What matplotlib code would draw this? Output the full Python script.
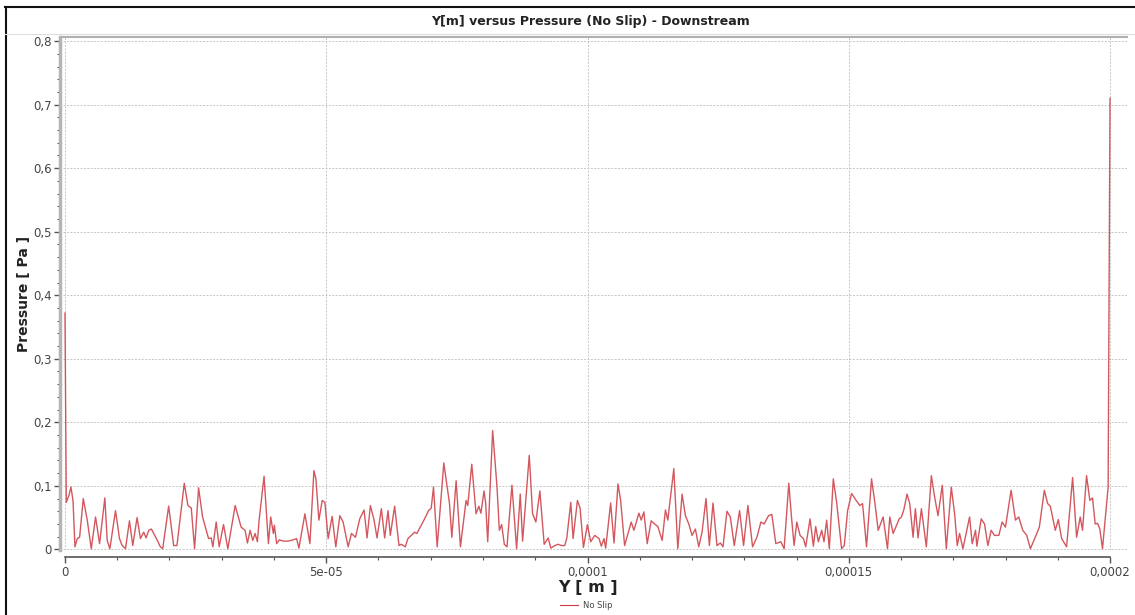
import matplotlib
matplotlib.use("Agg")
import matplotlib.pyplot as plt
from matplotlib.lines import Line2D
from matplotlib.ticker import MultipleLocator, FixedLocator

# ---- data (position in micrometres, pressure in Pa) ----
y_um = [0.0, 0.25, 0.76, 1.14, 1.53, 1.91, 2.35, 2.80, 3.50, 4.26, 5.03, 5.85, 6.62, 7.63, 8.08, 8.59,
        9.67, 10.43, 10.94, 11.58, 12.34, 12.97, 13.80, 14.44, 15.07, 15.52, 16.03, 16.54, 17.17, 17.68,
        18.26, 18.70, 19.84, 20.80, 21.43, 22.83, 23.53, 24.17, 24.80, 25.57, 26.33, 27.48, 27.98, 28.30,
        28.94, 29.51, 30.34, 31.17, 32.57, 33.71, 34.47, 34.92, 35.43, 35.94, 36.38, 36.83, 37.15, 38.10,
        38.93, 39.37, 39.88, 40.07, 40.51, 41.02, 41.79, 42.74, 43.69, 44.33, 44.77, 45.92, 46.87, 47.64, 48.02,
        48.59, 49.23, 49.74, 50.37, 51.13, 51.83, 52.60, 53.23, 54.19, 54.82, 55.59, 56.41, 57.24, 57.81,
        58.45, 59.15, 59.72, 60.55, 61.18, 61.82, 62.26, 63.09, 63.92, 64.36, 65.13, 65.64, 66.27, 66.91,
        67.35, 68.05, 68.82, 69.58, 70.09, 70.53, 71.23, 72.50, 73.59, 74.03, 74.86, 75.68, 76.76, 77.08,
        77.85, 78.67, 79.20, 79.60, 80.20, 80.50, 80.90, 81.85, 82.68, 83.13, 83.57, 84.08, 84.59, 85.54,
        86.43, 87.13, 87.58, 88.85, 89.49, 90.12, 90.88, 91.71, 92.47, 92.98, 93.75, 94.38, 95.02, 95.65,
        96.04, 96.80, 97.24, 98.07, 98.58, 99.22, 99.98, 100.61, 101.38, 102.21, 102.65, 103.16, 103.48,
        104.43, 105.07, 105.83, 106.34, 107.10, 108.37, 108.88, 109.84, 110.28, 110.79, 111.43, 112.19,
        112.83, 113.46, 114.29, 114.92, 115.37, 116.52, 117.28, 118.10, 118.74, 119.38, 120.01, 120.65,
        121.29, 121.92, 122.68, 123.32, 124.02, 124.78, 125.42, 125.93, 126.69, 127.33, 128.09, 129.11,
        129.87, 130.70, 131.59, 132.42, 133.18, 133.81, 134.64, 135.28, 136.04, 137.00, 137.63, 138.52,
        139.09, 139.54, 140.05, 140.68, 141.32, 141.76, 142.59, 143.23, 143.67, 144.18, 144.82, 145.26,
        145.77, 146.28, 147.04, 147.68, 148.19, 148.63, 149.14, 149.78, 150.54, 151.50, 152.13, 152.64,
        153.40, 154.36, 154.99, 155.63, 156.58, 157.41, 157.85, 158.49, 159.26, 159.64, 160.08, 160.53,
        161.16, 161.67, 162.31, 162.75, 163.26, 163.90, 164.85, 165.81, 166.44, 167.08, 167.90, 168.67,
        169.62, 170.26, 170.77, 171.21, 171.85, 173.12, 173.63, 174.26, 174.52, 175.35, 175.98, 176.62,
        177.25, 177.89, 178.72, 179.35, 179.99, 181.07, 181.90, 182.53, 183.30, 184.06, 184.76, 185.84,
        186.47, 187.43, 188.07, 188.57, 189.53, 190.10, 190.74, 191.69, 192.84, 193.60, 194.30, 194.74,
        195.51, 196.14, 196.65, 197.16, 197.61, 198.05, 198.56, 199.32, 199.64, 200.0]
pressure = [0.372, 0.074, 0.085, 0.098, 0.077, 0.004, 0.017, 0.019, 0.080, 0.046, 0.001, 0.051, 0.009, 0.081,
            0.014, 0.001, 0.061, 0.017, 0.006, 0.001, 0.045, 0.006, 0.050, 0.017, 0.027, 0.018, 0.030, 0.032,
            0.022, 0.014, 0.004, 0.001, 0.068, 0.006, 0.006, 0.104, 0.069, 0.065, 0.001, 0.097, 0.051, 0.017,
            0.018, 0.004, 0.043, 0.004, 0.039, 0.001, 0.069, 0.035, 0.030, 0.010, 0.030, 0.014, 0.025, 0.012,
            0.046, 0.115, 0.009, 0.051, 0.025, 0.038, 0.009, 0.015, 0.013, 0.013, 0.015, 0.017, 0.002, 0.056,
            0.009, 0.124, 0.111, 0.046, 0.077, 0.074, 0.017, 0.052, 0.004, 0.053, 0.043, 0.004, 0.025, 0.019,
            0.048, 0.062, 0.018, 0.069, 0.046, 0.018, 0.064, 0.018, 0.061, 0.022, 0.068, 0.006, 0.008, 0.004,
            0.017, 0.022, 0.027, 0.025, 0.036, 0.048, 0.061, 0.065, 0.098, 0.004, 0.136, 0.072, 0.019, 0.108,
            0.004, 0.077, 0.069, 0.134, 0.056, 0.068, 0.057, 0.092, 0.074, 0.012, 0.187, 0.098, 0.030, 0.039,
            0.008, 0.004, 0.101, 0.001, 0.087, 0.013, 0.148, 0.056, 0.043, 0.092, 0.008, 0.018, 0.002, 0.006,
            0.008, 0.006, 0.006, 0.018, 0.074, 0.017, 0.077, 0.065, 0.003, 0.039, 0.012, 0.022, 0.017, 0.005,
            0.017, 0.002, 0.073, 0.010, 0.103, 0.077, 0.006, 0.043, 0.030, 0.057, 0.046, 0.059, 0.009, 0.045,
            0.040, 0.036, 0.014, 0.062, 0.046, 0.127, 0.001, 0.087, 0.053, 0.040, 0.022, 0.032, 0.004, 0.027,
            0.080, 0.006, 0.073, 0.006, 0.010, 0.004, 0.060, 0.051, 0.006, 0.061, 0.006, 0.069, 0.004, 0.019,
            0.043, 0.040, 0.053, 0.055, 0.009, 0.012, 0.001, 0.104, 0.046, 0.006, 0.043, 0.022, 0.017, 0.004,
            0.048, 0.005, 0.036, 0.012, 0.030, 0.012, 0.046, 0.001, 0.111, 0.074, 0.035, 0.001, 0.006, 0.061,
            0.088, 0.076, 0.069, 0.072, 0.004, 0.111, 0.074, 0.030, 0.051, 0.001, 0.051, 0.025, 0.040, 0.048,
            0.051, 0.062, 0.087, 0.072, 0.019, 0.064, 0.018, 0.064, 0.004, 0.116, 0.082, 0.053, 0.101, 0.001,
            0.098, 0.056, 0.006, 0.025, 0.001, 0.051, 0.009, 0.030, 0.005, 0.048, 0.040, 0.006, 0.030, 0.022,
            0.022, 0.043, 0.035, 0.093, 0.046, 0.051, 0.030, 0.022, 0.001, 0.022, 0.035, 0.093, 0.072, 0.068,
            0.030, 0.047, 0.017, 0.004, 0.113, 0.019, 0.051, 0.030, 0.116, 0.077, 0.081, 0.040, 0.041, 0.032,
            0.001, 0.069, 0.098, 0.710]

x_ticks = [0.0, 5e-05, 0.0001, 0.00015, 0.0002]
x_tick_labels = ["0", "5e-05", "0,0001", "0,00015", "0,0002"]
y_ticks = [0.0, 0.1, 0.2, 0.3, 0.4, 0.5, 0.6, 0.7, 0.8]
y_tick_labels = ["0", "0,1", "0,2", "0,3", "0,4", "0,5", "0,6", "0,7", "0,8"]

title = "Y[m] versus Pressure (No Slip) - Downstream"
x_label = "Y [ m ]"
y_label = "Pressure [ Pa ]"
series_name = "No Slip"

# ---- figure ----
plt.rcParams['font.family'] = ['DejaVu Sans']
fig = plt.figure(figsize=(11.35, 6.15), dpi=100)
ax = fig.add_axes([63/1135, 1-550/615, (1127-63)/1135, (550-37)/615])

xs = [v * 1e-6 for v in y_um]
line_color = '#cc3a42'
ax.plot(xs, pressure, color=line_color, lw=1.0, alpha=0.85)

ax.set_xlim(-0.38e-6, 203.25e-6)
ax.set_ylim(-0.001, 0.8065)

ax.xaxis.set_major_locator(FixedLocator(x_ticks))
ax.set_xticklabels(x_tick_labels)
ax.xaxis.set_minor_locator(MultipleLocator(1e-5))
ax.yaxis.set_major_locator(FixedLocator(y_ticks))
ax.set_yticklabels(y_tick_labels)
ax.yaxis.set_minor_locator(MultipleLocator(0.02))

ax.grid(True, which='major', color='#c6c6c6', lw=0.7, linestyle=(0, (2, 1.5)))

ax.spines['right'].set_visible(False)
ax.spines['top'].set_color('#b0b0b0')
ax.spines['top'].set_linewidth(1.5)
ax.spines['left'].set_position(('outward', 2.2))
ax.spines['left'].set_color('#b4b4b4')
ax.spines['left'].set_linewidth(2.5)
ax.spines['bottom'].set_position(('outward', 5))
ax.spines['bottom'].set_color('#555555')
ax.spines['bottom'].set_linewidth(1.2)
ax.spines['bottom'].set_bounds(0, 2e-4)

ax.tick_params(axis='both', which='major', direction='out', length=4, width=1,
               color='#555555', labelcolor='#444444', labelsize=8.5, pad=2)
ax.tick_params(axis='both', which='minor', direction='out', length=2.5, width=0.8,
               color='#555555')
ax.tick_params(axis='x', which='major', pad=2.5)

ax.set_xlabel(x_label, fontsize=11.5, fontweight='bold', color='#222222')
ax.xaxis.set_label_coords((588 - 63) / 1064, -(580 - 550) / 513)
ax.set_ylabel(y_label, fontsize=10, fontweight='bold', color='#222222', labelpad=1.5)

fig.text(590/1135, 1-21/615, title, ha='center', va='center', fontsize=9,
         fontweight='bold', color='#222222')

# legend
handle = Line2D([0], [0], color=line_color, lw=0.8)
fig.legend([handle], [series_name], loc='center', bbox_to_anchor=(586/1135, 1-605/615),
           frameon=False, fontsize=6, handlelength=2.2, handletextpad=0.6, labelcolor='#444444')

# outer frame lines
fig.add_artist(Line2D([5/1135, 1.0], [1-7/615, 1-7/615], color='#111111', lw=1.5))
fig.add_artist(Line2D([6/1135, 6/1135], [1-7/615, 0.0], color='#111111', lw=1.5))
fig.add_artist(Line2D([5/1135, 1.0], [1-34/615, 1-34/615], color='#dddddd', lw=0.8))

fig.savefig("out.png", dpi=100)
